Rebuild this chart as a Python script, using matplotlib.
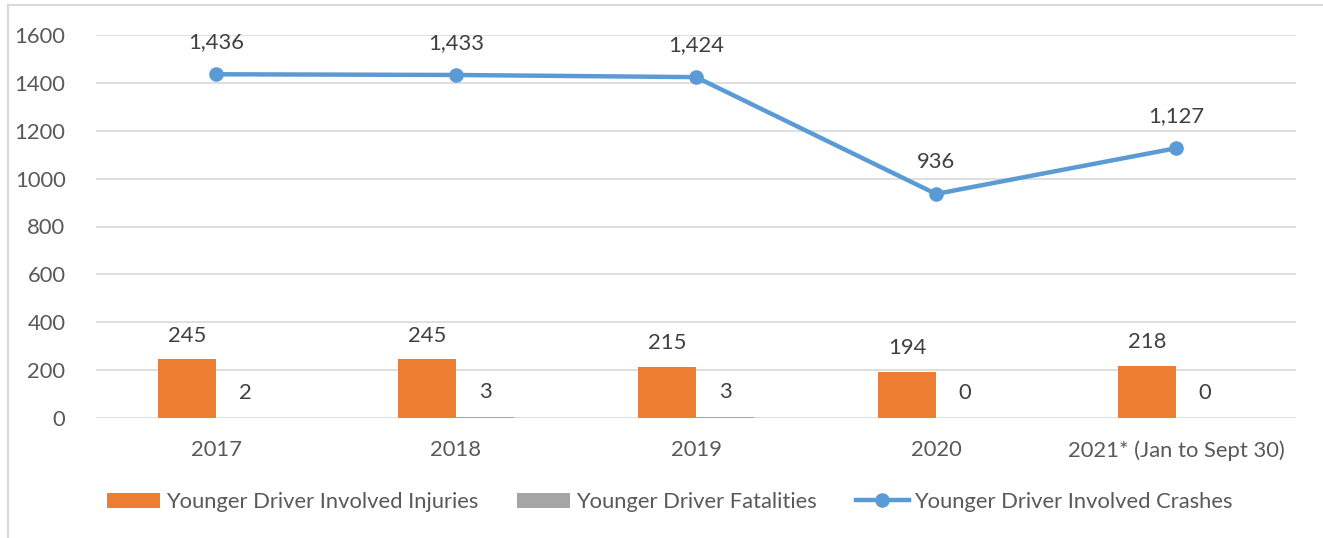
import matplotlib
matplotlib.use("Agg")
import matplotlib.pyplot as plt
from matplotlib.lines import Line2D
from matplotlib.patches import Patch
import numpy as np

categories = ["2017", "2018", "2019", "2020", "2021* (Jan to Sept 30)"]
injuries = [245, 245, 215, 194, 218]
fatalities = [2, 3, 3, 0, 0]
crashes = [1436, 1433, 1424, 936, 1127]
y_ticks = [0, 200, 400, 600, 800, 1000, 1200, 1400, 1600]

W, H = 1323, 538
FONT = "Lato"
FS = 15.8
TXT = "#595959"
ORANGE = "#ED7D31"
GRAY = "#A5A5A5"
BLUE = "#5B9BD5"
GRID = "#D9D9D9"

plt.rcParams["font.family"] = [FONT, "DejaVu Sans"]

fig = plt.figure(figsize=(W / 100, H / 100), dpi=100)
ax = fig.add_axes([96 / W, 1 - 418 / H, (1296 - 96) / W, (418 - 35) / H])

x = np.arange(len(categories))
bw = 0.242
ax.bar(x - bw / 2, injuries, bw, color=ORANGE, zorder=2)
ax.bar(x + bw / 2, fatalities, bw, color=GRAY, zorder=2)
ax.plot(x, crashes, color=BLUE, lw=3.2, marker="o", ms=9.5, zorder=3,
        solid_capstyle="round")

for xi, v in zip(x, injuries):
    ax.annotate(f"{v}", (xi - bw / 2, v), xytext=(0, 17), textcoords="offset points",
                ha="center", va="center", fontsize=FS, color="#404040")
for xi, v in zip(x, fatalities):
    ax.annotate(f"{v}", (xi + bw / 2, v), xytext=(0, 18), textcoords="offset points",
                ha="center", va="center", fontsize=FS, color="#404040")
for xi, v in zip(x, crashes):
    ax.annotate(f"{v:,}", (xi, v), xytext=(0, 23), textcoords="offset points",
                ha="center", va="center", fontsize=FS, color="#404040")

ax.set_xlim(-0.5, len(categories) - 0.5)
ax.set_ylim(0, 1600)
ax.set_yticks(y_ticks)
ax.set_yticklabels([str(t) for t in y_ticks])
ax.set_xticks(x)
ax.set_xticklabels(categories)
ax.tick_params(axis="both", length=0, labelsize=FS, labelcolor=TXT)
ax.tick_params(axis="y", pad=22)
ax.tick_params(axis="x", pad=16)
ax.grid(axis="y", color=GRID, lw=1.2, zorder=0)
ax.set_axisbelow(True)
for s in ax.spines.values():
    s.set_visible(False)

handles = [
    Patch(facecolor=ORANGE, edgecolor="none", label="Younger Driver Involved Injuries"),
    Patch(facecolor=GRAY, edgecolor="none", label="Younger Driver Fatalities"),
    Line2D([], [], color=BLUE, lw=3.2, marker="o", ms=9.5, label="Younger Driver Involved Crashes"),
]
fig.legend(handles=handles, loc="center", bbox_to_anchor=(670 / W, 1 - 502 / H),
           ncol=3, frameon=False, fontsize=FS, handlelength=2.4,
           handleheight=0.7, handletextpad=0.25, columnspacing=1.8,
           labelcolor=TXT)

# chart border (light gray)
fig.add_artist(Line2D([8 / W, 8 / W], [0, 1 - 5 / H], color=GRID, lw=1.5, transform=fig.transFigure))
fig.add_artist(Line2D([8 / W, 1], [1 - 5 / H, 1 - 5 / H], color=GRID, lw=1.5, transform=fig.transFigure))

fig.savefig("out.png", dpi=100, facecolor="white")
